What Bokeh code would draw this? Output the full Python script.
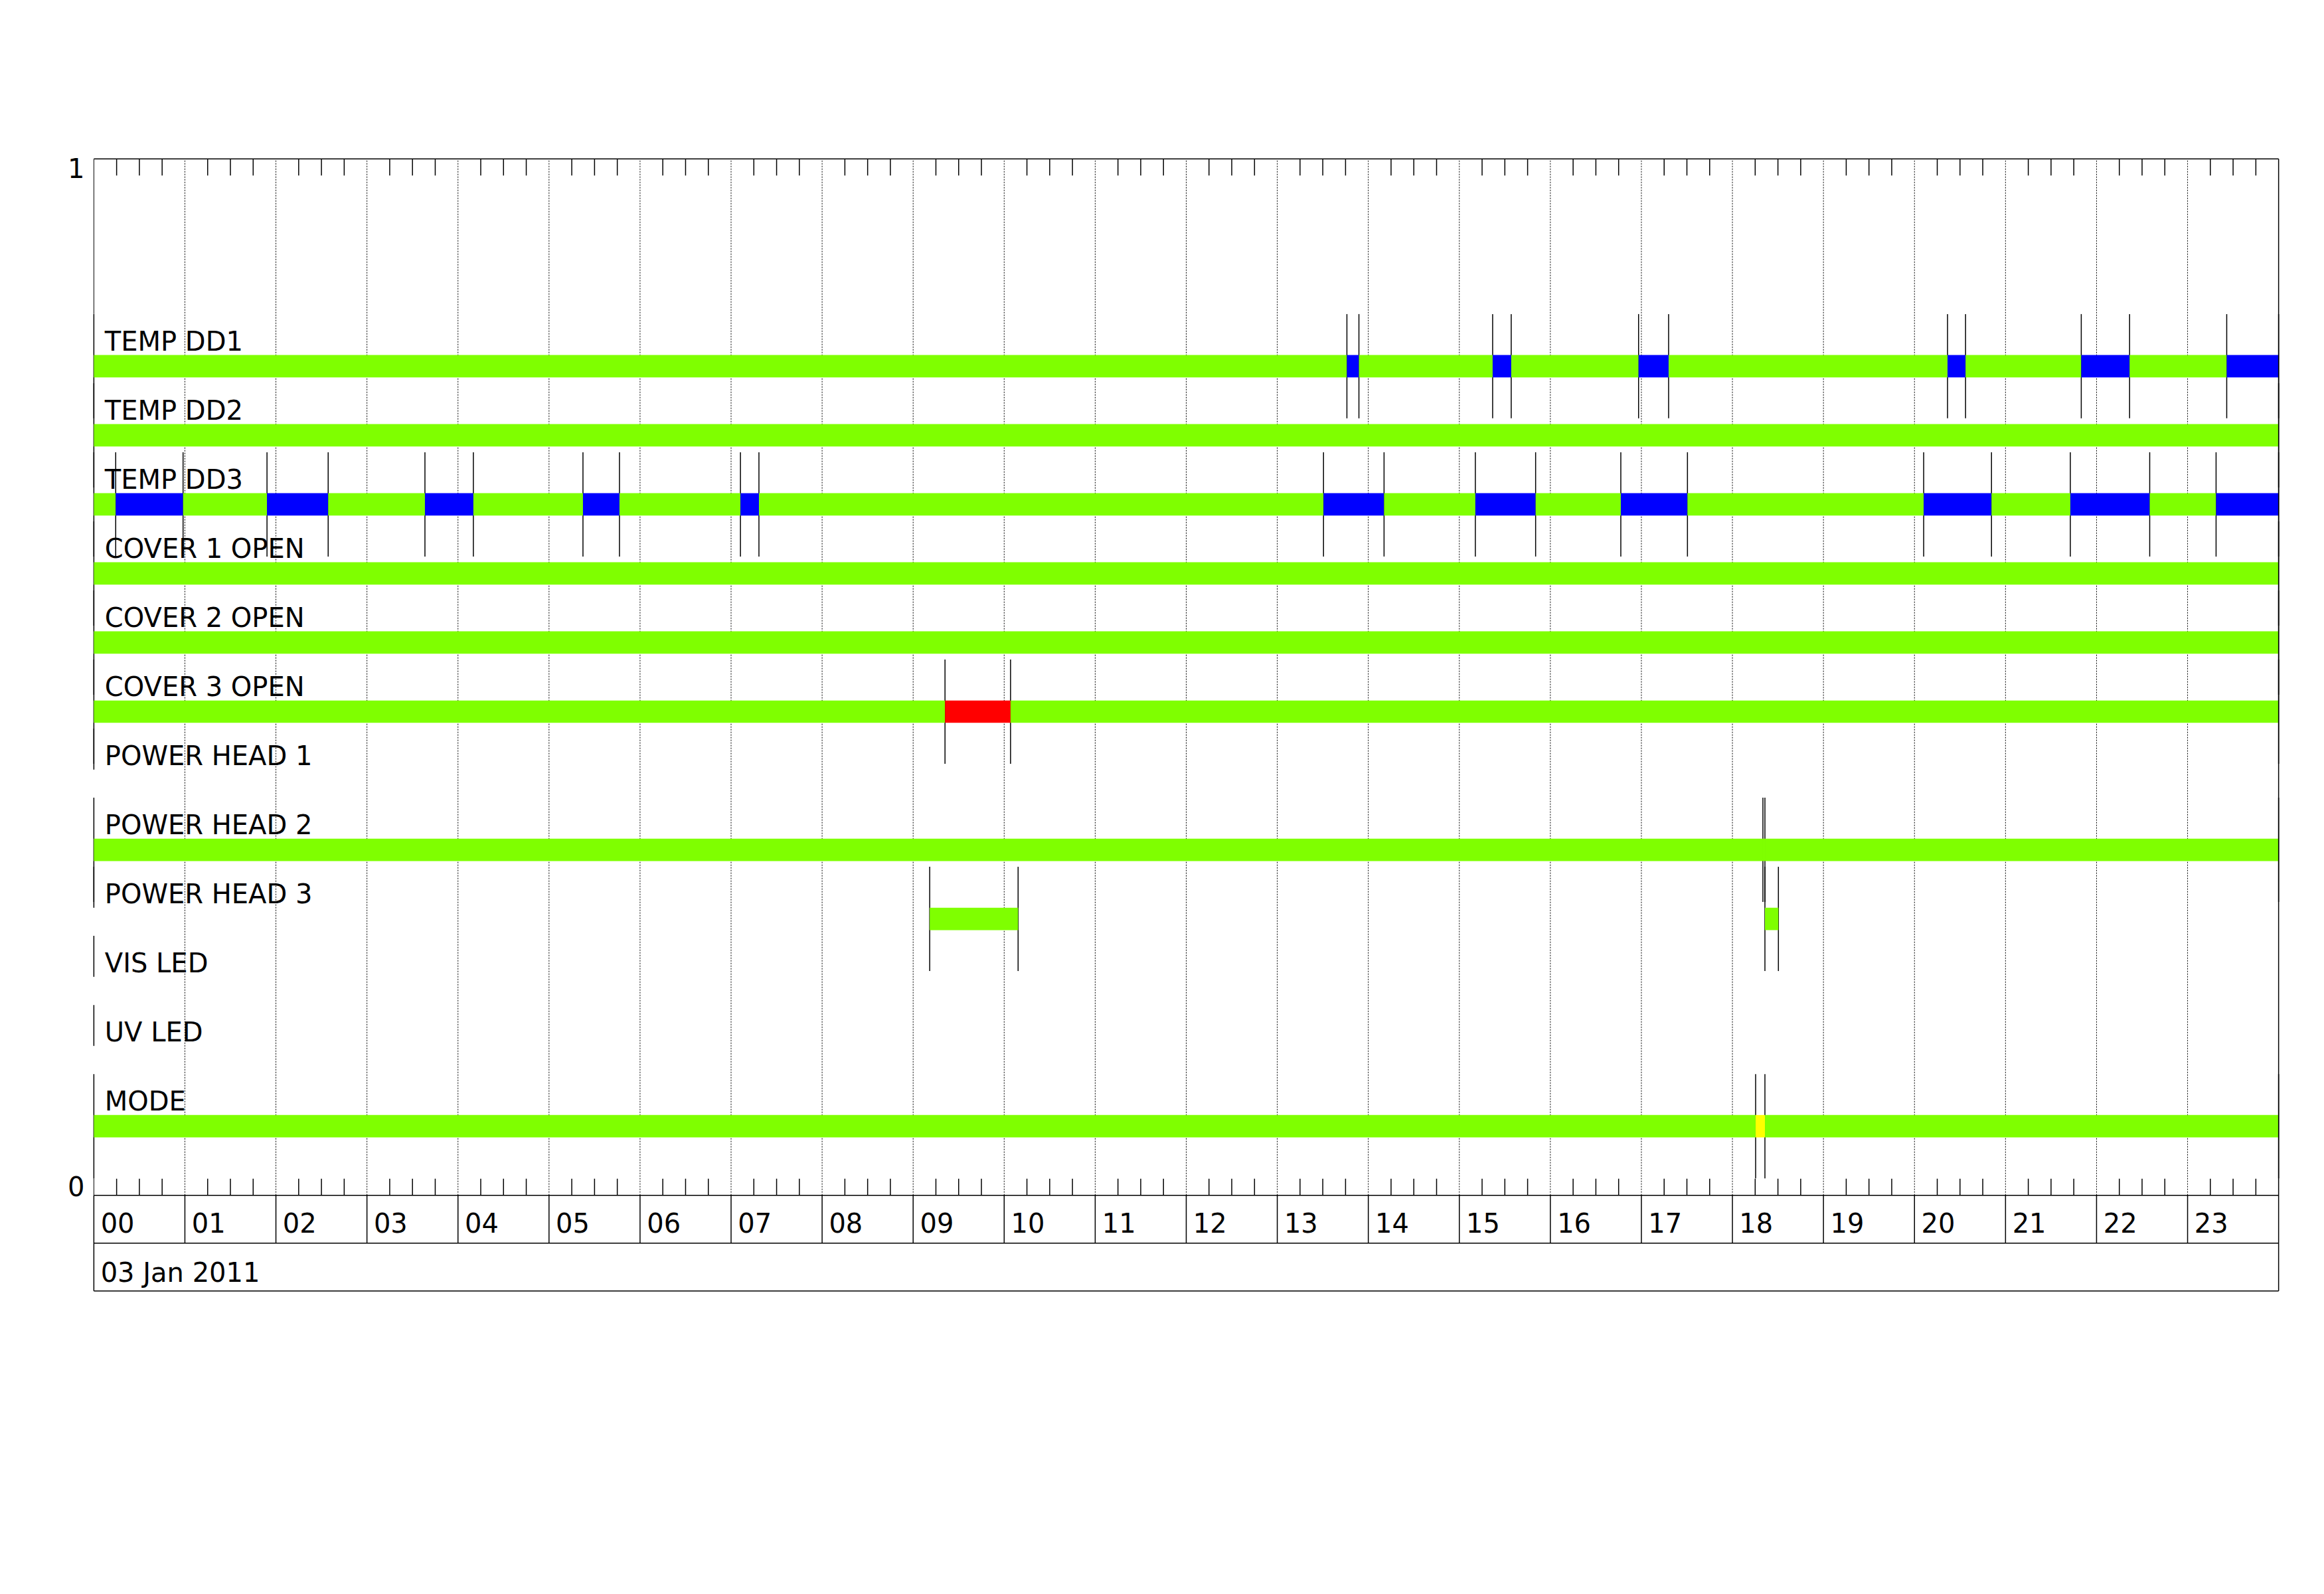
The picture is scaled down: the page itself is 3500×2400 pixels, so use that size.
from bokeh.plotting import figure
from bokeh.models import Range1d, ColumnDataSource, LinearAxis, FixedTicker
from bokeh.embed import file_html
from bokeh.resources import INLINE
from bokeh.core.properties import value

# ---------------- data ----------------
ROW_NAMES = ["TEMP DD1", "TEMP DD2", "TEMP DD3", "COVER 1 OPEN", "COVER 2 OPEN",
             "COVER 3 OPEN", "POWER HEAD 1", "POWER HEAD 2", "POWER HEAD 3",
             "VIS LED", "UV LED", "MODE"]

# state change times (hours UT) and the state of each interval between them
TEMP_DD1_T = [0.0, 13.765, 13.897, 15.366, 15.570, 16.969, 17.299, 20.363, 20.561,
              21.832, 22.363, 23.430, 24.0]
TEMP_DD1_S = ["ok", "low", "ok", "low", "ok", "low", "ok", "low", "ok", "low", "ok", "low"]

TEMP_DD2_T = [0.0, 24.0]
TEMP_DD2_S = ["ok"]

TEMP_DD3_T = [0.0, 0.240, 0.980, 1.902, 2.574, 3.637, 4.169, 5.373, 5.774, 7.103, 7.306,
              13.508, 14.173, 15.176, 15.838, 16.774, 17.506, 20.101, 20.846, 21.712,
              22.584, 23.313, 24.0]
TEMP_DD3_S = ["ok", "low", "ok", "low", "ok", "low", "ok", "low", "ok", "low", "ok",
              "low", "ok", "low", "ok", "low", "ok", "low", "ok", "low", "ok", "low"]

COVER1_T = [0.0, 24.0]
COVER1_S = ["ok"]
COVER2_T = [0.0, 24.0]
COVER2_S = ["ok"]
COVER3_T = [0.0, 9.350, 10.070, 24.0]
COVER3_S = ["ok", "alarm", "ok"]

HEAD1_T = []
HEAD1_S = []
HEAD2_T = [0.0, 18.335, 18.357, 24.0]
HEAD2_S = ["ok", "ok", "ok"]
HEAD3_T = [9.182, 10.153, 18.357, 18.505]
HEAD3_S = ["ok", "none", "ok"]

VIS_LED_T = []
VIS_LED_S = []
UV_LED_T = []
UV_LED_S = []

MODE_T = [0.0, 18.255, 18.357, 24.0]
MODE_S = ["ok", "standby", "ok"]

ROWS_T = [TEMP_DD1_T, TEMP_DD2_T, TEMP_DD3_T, COVER1_T, COVER2_T, COVER3_T,
          HEAD1_T, HEAD2_T, HEAD3_T, VIS_LED_T, UV_LED_T, MODE_T]
ROWS_S = [TEMP_DD1_S, TEMP_DD2_S, TEMP_DD3_S, COVER1_S, COVER2_S, COVER3_S,
          HEAD1_S, HEAD2_S, HEAD3_S, VIS_LED_S, UV_LED_S, MODE_S]

STATE_COLORS = {"ok": "#7FFF00", "low": "#0000FF", "alarm": "#FF0000", "standby": "#FFFF00"}

HOURS = list(range(24))
HOUR_LABELS = ["%02d" % h for h in HOURS]
DATE_LABEL = "03 Jan 2011"
Y_TICKS = [0, 1]
Y_TICK_LABELS = ["0", "1"]

# ---------------- layout constants ----------------
FONT = "DejaVu Sans"
FSIZE = "40px"
ROW_STEP = 1.0 / 15.0
BAR_HALF = 0.0108
MARK_HALF = 0.0503
LABEL_DY = 0.0242
LABEL_X = 0.12
TICK_LEN = 0.016
HOUR_ROW = 0.04615
YBOT = -2 * HOUR_ROW
HOUR_TEXT_Y = -0.0268
DATE_TEXT_Y = -0.0743
XPAD, YPAD = 0.05, 0.005

p = figure(width=3460, height=2300,
           x_range=Range1d(-XPAD, 24 + XPAD), y_range=Range1d(YBOT - YPAD, 1 + YPAD),
           output_backend="svg", toolbar_location=None, tools="",
           x_axis_type=None, y_axis_type=None, title=None,
           min_border_left=134, min_border_right=22, min_border_top=231, min_border_bottom=349,
           background_fill_color="white", border_fill_color="white", outline_line_color=None)

n = len(ROW_NAMES)
row_y = [(n - i) * ROW_STEP for i in range(n)]

# left axis with the 0 / 1 end labels (label top at 1, label bottom at 0)
nudge = 0.009
tick_pos = [yv + nudge if yv == 0 else yv - nudge for yv in Y_TICKS]
yax = LinearAxis(ticker=FixedTicker(ticks=tick_pos),
                 major_label_overrides={tp: lab for tp, lab in zip(tick_pos, Y_TICK_LABELS)},
                 major_tick_in=0, major_tick_out=0, minor_tick_in=0, minor_tick_out=0,
                 axis_line_color=None, major_label_standoff=7,
                 major_label_text_font=FONT, major_label_text_font_size=FSIZE,
                 major_label_text_color="black")
p.add_layout(yax, "left")

# hour grid (dotted)
p.segment(x0=HOURS[1:], y0=[0] * 23, x1=HOURS[1:], y1=[1] * 23,
          line_color="black", line_width=1, line_dash="2 2")

# quarter-hour minor ticks top and bottom
quarters = [h + q for h in HOURS for q in (0.25, 0.5, 0.75)]
nq = len(quarters)
p.segment(x0=quarters, y0=[1] * nq, x1=quarters, y1=[1 - TICK_LEN] * nq,
          line_color="black", line_width=1.5)
p.segment(x0=quarters, y0=[0] * nq, x1=quarters, y1=[TICK_LEN] * nq,
          line_color="black", line_width=1.5)

# state-change markers
mx, my0, my1 = [], [], []
for yc, ts in zip(row_y, ROWS_T):
    for t in ts:
        mx.append(t); my0.append(yc - MARK_HALF); my1.append(yc + MARK_HALF)
    if not ts or ts[0] > 0:
        mx.append(0.0); my0.append(yc + BAR_HALF); my1.append(yc + MARK_HALF)
p.segment(x0=mx, y0=my0, x1=mx, y1=my1, line_color="black", line_width=1.5)

# thin left edge parts
p.segment(x0=[0, 0], y0=[1, row_y[-1] - MARK_HALF], x1=[0, 0], y1=[row_y[0] + MARK_HALF, 0],
          line_color="black", line_width=1)

# status bars
bl, br, bb, bt, bc = [], [], [], [], []
for yc, ts, ss in zip(row_y, ROWS_T, ROWS_S):
    for k, s in enumerate(ss):
        if s in STATE_COLORS:
            bl.append(ts[k]); br.append(ts[k + 1])
            bb.append(yc - BAR_HALF); bt.append(yc + BAR_HALF)
            bc.append(STATE_COLORS[s])
p.quad(source=ColumnDataSource(dict(left=bl, right=br, bottom=bb, top=bt, color=bc)),
       left="left", right="right", bottom="bottom", top="top",
       fill_color="color", line_color=None)

# row labels
p.text(x=[LABEL_X] * n, y=[yc + LABEL_DY for yc in row_y], text=ROW_NAMES,
       text_font=value(FONT), text_font_size=FSIZE, text_color="black",
       text_align="left", text_baseline="alphabetic")

# frame and time-axis boxes
bx0 = [0, 24, 0, 0, 0, 0]
by0 = [1, 1, 0, -HOUR_ROW, YBOT, 0]
bx1 = [24, 24, 24, 24, 24, 0]
by1 = [1, YBOT, 0, -HOUR_ROW, YBOT, YBOT]
p.segment(x0=bx0, y0=by0, x1=bx1, y1=by1, line_color="black", line_width=1.5)
p.segment(x0=HOURS[1:], y0=[0] * 23, x1=HOURS[1:], y1=[-HOUR_ROW] * 23,
          line_color="black", line_width=1.5)

# hour labels and date
p.text(x=[h + 0.075 for h in HOURS], y=[HOUR_TEXT_Y] * 24, text=HOUR_LABELS,
       text_font=value(FONT), text_font_size=FSIZE, text_color="black",
       text_align="left", text_baseline="alphabetic")
p.text(x=[0.075], y=[DATE_TEXT_Y], text=[DATE_LABEL],
       text_font=value(FONT), text_font_size=FSIZE, text_color="black",
       text_align="left", text_baseline="alphabetic")

open("out.html", "w").write(file_html(p, INLINE))
